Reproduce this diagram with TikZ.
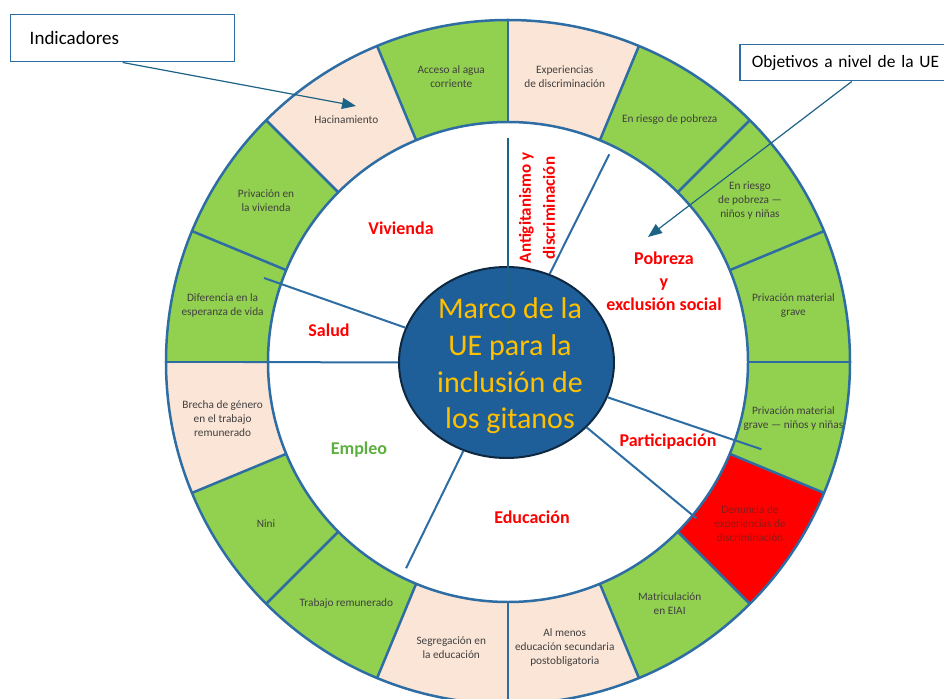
\documentclass[tikz,border=0pt]{standalone}
\usepackage{fontspec}
\setmainfont{Carlito}
\usetikzlibrary{arrows.meta,shapes.geometric}
\definecolor{ringblue}{HTML}{2E6DA4}
\definecolor{gr}{HTML}{92D050}
\definecolor{pe}{HTML}{FBE5D6}
\definecolor{rd}{HTML}{FF0000}
\definecolor{corefill}{HTML}{1F5F99}
\definecolor{coreline}{HTML}{0E2841}
\definecolor{gold}{HTML}{FFC000}
\definecolor{arrowteal}{HTML}{1D6385}
\definecolor{txtgray}{HTML}{404040}
\definecolor{darkred}{HTML}{901818}
\definecolor{empgreen}{HTML}{5DAF3F}
\begin{document}
\begin{tikzpicture}[x=1pt,y=1pt,
  seglabel/.style={font=\fontsize{11.3}{14}\selectfont, text=txtgray, align=center, inner sep=0pt},
  domlabel/.style={font=\fontsize{18}{23}\selectfont\bfseries, text=rd, align=center, inner sep=0pt},
  domline/.style={draw=ringblue, line width=2pt},
  ringline/.style={draw=ringblue, line width=2.5pt},
  callout/.style={draw=ringblue, line width=1.5pt, fill=white, align=left, anchor=north west},
  pointer/.style={draw=arrowteal, line width=1.2pt, -{Triangle[length=14pt,width=11pt]}}
]
\useasboundingbox (-508,-336) rectangle (436,362);
% ring sectors
\foreach \a/\c/\tc/\lbl [count=\i] in {
  90/gr/txtgray/{Acceso al agua\\corriente},
  67.5/pe/txtgray/{Experiencias\\de discriminación},
  45/gr/txtgray/{En riesgo de pobreza},
  22.5/gr/txtgray/{En riesgo\\de pobreza —\\niños y niñas},
  0/gr/txtgray/{Privación material\\grave},
  -22.5/gr/txtgray/{Privación material\\grave — niños y niñas},
  -45/rd/darkred/{Denuncia de\\experiencias de\\discriminación},
  -67.5/gr/txtgray/{Matriculación\\en EIAI},
  -90/pe/txtgray/{Al menos\\educación secundaria\\postobligatoria},
  -112.5/pe/txtgray/{Segregación en\\la educación},
  -135/gr/txtgray/{Trabajo remunerado},
  -157.5/gr/txtgray/{Nini},
  -180/pe/txtgray/{Brecha de género\\en el trabajo\\remunerado},
  157.5/gr/txtgray/{Diferencia en la\\esperanza de vida},
  135/gr/txtgray/{Privación en\\la vivienda},
  112.5/pe/txtgray/{Hacinamiento}}{
  \pgfmathsetmacro\b{\a+22.5}
  \pgfmathsetmacro\m{\a+11.25}
  \fill[\c] (\a:240) arc[start angle=\a, end angle=\b, radius=240] -- (\b:342) arc[start angle=\b, end angle=\a, radius=342] -- cycle;
  \node[seglabel, text=\tc] (seg\i) at (\m:291) {\lbl};
}
\draw[ringline] (0,0) circle[radius=342];
\draw[ringline] (0,0) circle[radius=240];
\foreach \a in {0,22.5,...,337.5}{
  \draw[ringline] (\a:240) -- (\a:342);
}
% core
\node[ellipse, draw=coreline, line width=2pt, fill=corefill, minimum width=215pt, minimum height=191pt, inner sep=0pt] (core) at (-1.5,-0.5) {};
\coordinate (hub) at (0,0);
\coordinate (e1) at (64:231);
\coordinate (e2) at (161:258);
\coordinate (e3) at (180:265);
\coordinate (e4) at (-116.3:230);
\coordinate (e5) at (-39.7:245);
\coordinate (e6) at (-19:268);
\coordinate (e7) at (90:224);
\draw[domline] (core.64) -- (e1);
\draw[domline] (core.161) -- (e2);
\draw[domline] (core.180) -- (e3);
\draw[domline] (core.-116.3) -- (e4);
\draw[domline] (core.-39.7) -- (e5);
\draw[domline] (core.-19) -- (e6);
\draw[draw=arrowteal, line width=1.8pt] (e7) -- (hub);
\node[font=\fontsize{30}{36.7}\selectfont, text=gold, align=center, inner sep=0pt] (title) at (2,-4) {Marco de la\\UE para la\\inclusión de\\los gitanos};
% domain labels
\node[domlabel] (viv) at (-107,134) {Vivienda};
\node[domlabel, font=\fontsize{17}{24}\selectfont\bfseries, rotate=90] (anti) at (29,154) {Antigitanismo y\\discriminación};
\node[domlabel] (pob) at (156,81) {Pobreza\\y\\exclusión social};
\node[domlabel] (sal) at (-179,32) {Salud};
\node[domlabel] (par) at (160,-80) {Participación};
\node[domlabel, text=empgreen] (emp) at (-149,-88) {Empleo};
\node[domlabel] (edu) at (24,-155) {Educación};
% callouts
\node[callout, font=\fontsize{19}{23}\selectfont, inner xsep=19pt, text width=186pt, minimum height=47pt] (ind) at (-498,348) {Indicadores};
\node[callout, font=\fontsize{17.4}{21}\selectfont, inner xsep=12pt, text width=200pt, minimum height=36pt] (obj) at (231,318) {Objetivos a nivel de la UE};
\coordinate (indtip) at (-152,256);
\coordinate (objtip) at (140,125);
\draw[pointer] (ind.south) -- (indtip);
\draw[pointer] (obj.south) -- (objtip);
\end{tikzpicture}
\end{document}
